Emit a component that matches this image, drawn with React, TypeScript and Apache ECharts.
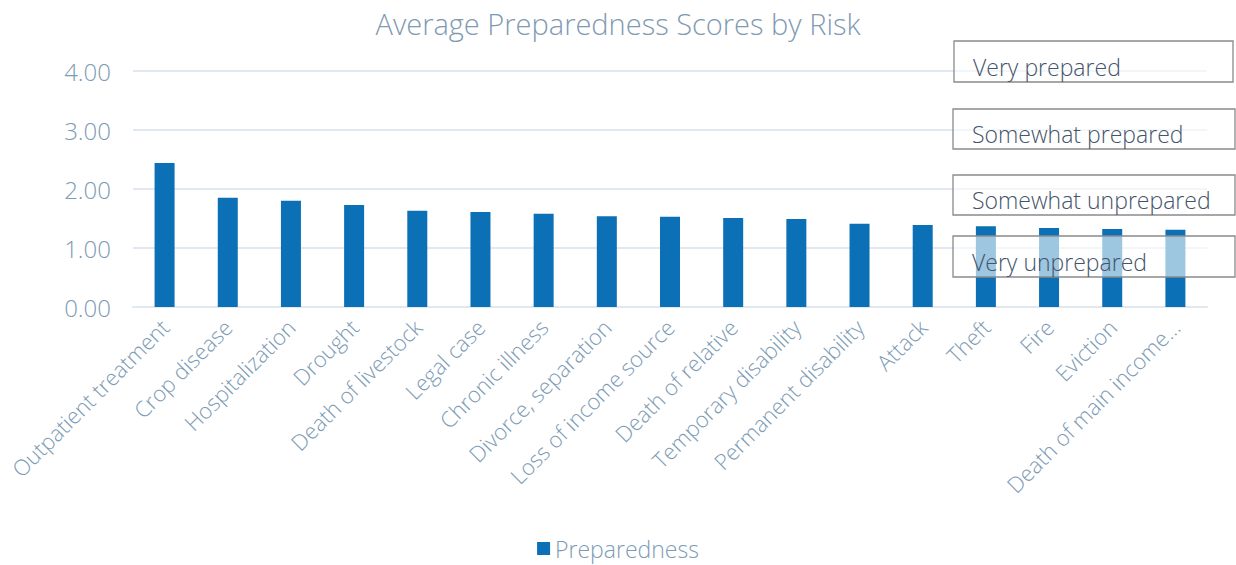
import React, { useEffect, useRef } from "react";
import * as echarts from "echarts";

const categories = [
  "Outpatient treatment",
  "Crop disease",
  "Hospitalization",
  "Drought",
  "Death of livestock",
  "Legal case",
  "Chronic illness",
  "Divorce, separation",
  "Loss of income source",
  "Death of relative",
  "Temporary disability",
  "Permanent disability",
  "Attack",
  "Theft",
  "Fire",
  "Eviction",
  "Death of main income earner",
];
const preparedness = [2.44, 1.85, 1.8, 1.73, 1.63, 1.61, 1.58, 1.54, 1.53, 1.51, 1.49, 1.41, 1.39, 1.37, 1.34, 1.32, 1.31];
const yTicks = [0, 1, 2, 3, 4];
const scaleLabels = ["Very prepared", "Somewhat prepared", "Somewhat unprepared", "Very unprepared"];

const FONT = "Open Sans";
const AXIS_COLOR = "#7d9bb5";

export default function App() {
  const ref = useRef<HTMLDivElement>(null);
  useEffect(() => {
    if (!ref.current) return;
    const chart = echarts.init(ref.current, undefined, { renderer: "svg" });
    const boxes = [
      { x: 954, y: 41, w: 279, h: 41 },
      { x: 953, y: 109, w: 282, h: 40 },
      { x: 953, y: 175, w: 282, h: 40 },
      { x: 953, y: 236, w: 282, h: 41 },
    ];
    chart.setOption({
      animation: false,
      title: {
        text: "Average Preparedness Scores by Risk",
        left: "center",
        top: 4,
        textStyle: { fontFamily: FONT, fontWeight: 300, fontSize: 29, color: "#7f9ab2" },
      },
      legend: {
        bottom: 0,
        left: "center",
        itemWidth: 13,
        itemHeight: 13,
        icon: "rect",
        itemGap: 5,
        textStyle: { fontFamily: FONT, fontWeight: 300, fontSize: 23, color: AXIS_COLOR },
        data: ["Preparedness"],
      },
      grid: { left: 133, right: 29, top: 71, bottom: 258, containLabel: false },
      xAxis: {
        type: "category",
        data: categories,
        axisTick: { show: false },
        axisLine: { show: true, lineStyle: { color: "#e1e8ef", width: 2 } },
        axisLabel: {
          rotate: 45,
          interval: 0,
          margin: 16,
          fontFamily: FONT,
          fontWeight: 300,
          fontSize: 22,
          color: AXIS_COLOR,
          formatter: (v: string) => (v.length > 21 ? v.slice(0, 20) + "…" : v),
        },
      },
      yAxis: {
        type: "value",
        min: yTicks[0],
        max: yTicks[yTicks.length - 1],
        interval: 1,
        axisLine: { show: false },
        axisTick: { show: false },
        splitLine: { lineStyle: { color: "#e1e8ef", width: 2 } },
        axisLabel: {
          margin: 22,
          fontFamily: FONT,
          fontWeight: 300,
          fontSize: 24,
          color: AXIS_COLOR,
          formatter: (v: number) => v.toFixed(2),
        },
      },
      series: [
        {
          name: "Preparedness",
          type: "bar",
          data: preparedness,
          barWidth: 20,
          itemStyle: { color: "#0b70b5" },
        },
      ],
      graphic: boxes.map((b, i) => ({
        type: "group",
        z: 100,
        children: [
          {
            type: "rect",
            shape: { x: b.x, y: b.y, width: b.w, height: b.h },
            style: { fill: "rgba(255,255,255,0.6)", stroke: "#8a8a8a", lineWidth: 1.3 },
            z: 100,
          },
          {
            type: "text",
            x: b.x + 19,
            y: b.y + b.h / 2 + 5,
            z: 101,
            style: {
              text: scaleLabels[i],
              fontFamily: FONT,
              fontWeight: 300,
              fontSize: 23,
              fill: "#44546a",
              verticalAlign: "middle",
            },
          },
        ],
      })),
    });
    return () => chart.dispose();
  }, []);
  return <div ref={ref} style={{ width: 1236, height: 565, position: "absolute", left: 0, top: 0 }} />;
}
